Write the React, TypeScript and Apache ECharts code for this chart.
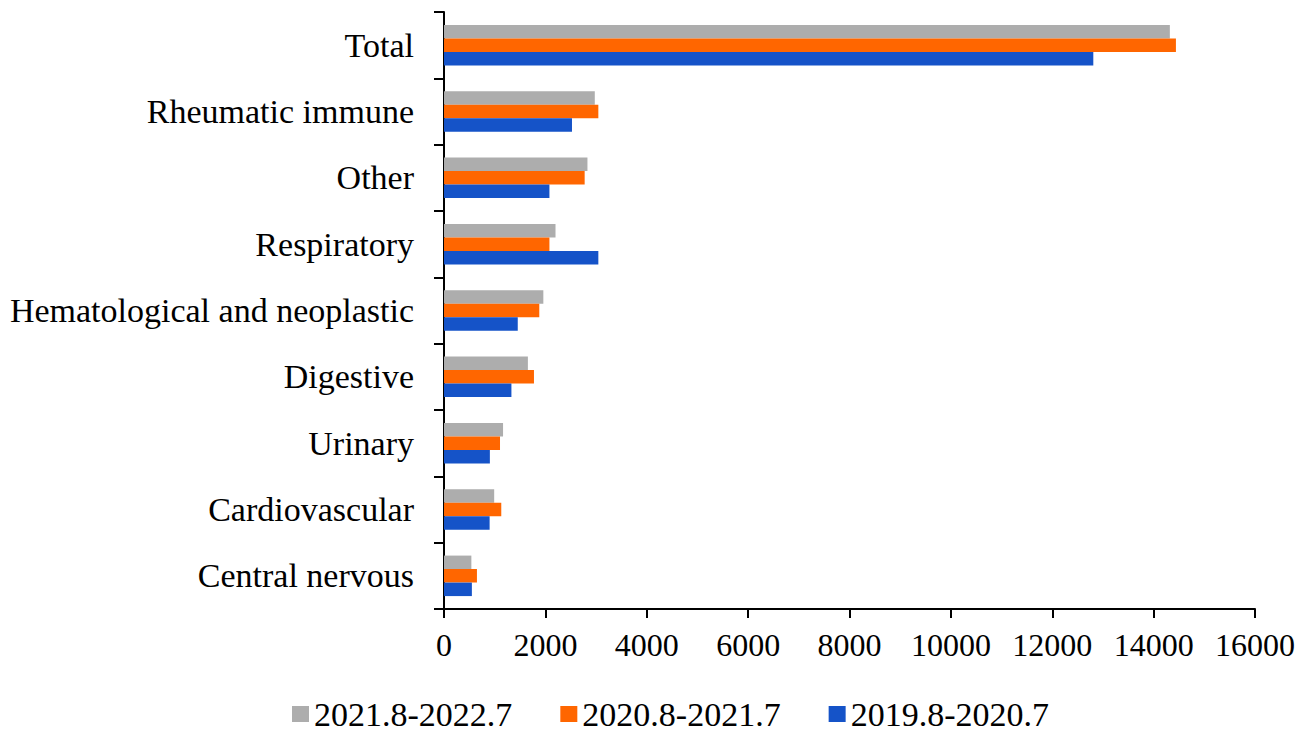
import React, { useEffect, useRef } from "react";
import * as echarts from "echarts";

const categories = [
  "Central nervous",
  "Cardiovascular",
  "Urinary",
  "Digestive",
  "Hematological and neoplastic",
  "Respiratory",
  "Other",
  "Rheumatic immune",
  "Total",
];
const s2021 = [540, 990, 1165, 1655, 1960, 2200, 2830, 2975, 14320];
const s2020 = [650, 1130, 1105, 1775, 1880, 2080, 2775, 3045, 14440];
const s2019 = [550, 900, 905, 1330, 1455, 3045, 2080, 2525, 12810];
const seriesNames = ["2021.8-2022.7", "2020.8-2021.7", "2019.8-2020.7"];
const xTicks = { min: 0, max: 16000, interval: 2000 };

const FONT = "'Liberation Serif', 'Times New Roman', serif";

export default function App() {
  const ref = useRef<HTMLDivElement>(null);
  useEffect(() => {
    if (!ref.current) return;
    const chart = echarts.init(ref.current, undefined, { renderer: "svg" });
    const barBase = { type: "bar", barWidth: 13.5, barGap: "0%" };
    chart.setOption({
      animation: false,
      backgroundColor: "#ffffff",
      textStyle: { fontFamily: FONT },
      grid: { left: 444, right: 51, top: 12, bottom: 127, containLabel: false },
      legend: {
        data: seriesNames,
        top: 696,
        left: 292,
        padding: 0,
        itemWidth: 17,
        itemHeight: 16,
        itemGap: 48,
        icon: "rect",
        textStyle: { fontFamily: FONT, fontSize: 34, color: "#000", lineHeight: 36 },
      },
      xAxis: {
        type: "value",
        min: xTicks.min,
        max: xTicks.max,
        interval: xTicks.interval,
        axisLine: { show: true, lineStyle: { color: "#000", width: 2 } },
        axisTick: { show: true, length: 9, lineStyle: { color: "#000", width: 2 } },
        splitLine: { show: false },
        axisLabel: {
          color: "#000",
          fontSize: 32,
          fontFamily: FONT,
          margin: 20,
          formatter: (v: number) => String(v),
        },
      },
      yAxis: {
        type: "category",
        data: categories,
        axisLine: { show: true, lineStyle: { color: "#000", width: 2 } },
        axisTick: { show: true, length: 10, lineStyle: { color: "#000", width: 2 } },
        axisLabel: { color: "#000", fontSize: 34, fontFamily: FONT, margin: 30 },
      },
      series: [
        { ...barBase, name: seriesNames[0], data: s2021, itemStyle: { color: "#ADADAD" } },
        { ...barBase, name: seriesNames[1], data: s2020, itemStyle: { color: "#FF6600" } },
        { ...barBase, name: seriesNames[2], data: s2019, itemStyle: { color: "#1553C8" } },
      ],
    });
    return () => chart.dispose();
  }, []);
  return <div ref={ref} style={{ width: 1306, height: 736, margin: -8 }} />;
}
